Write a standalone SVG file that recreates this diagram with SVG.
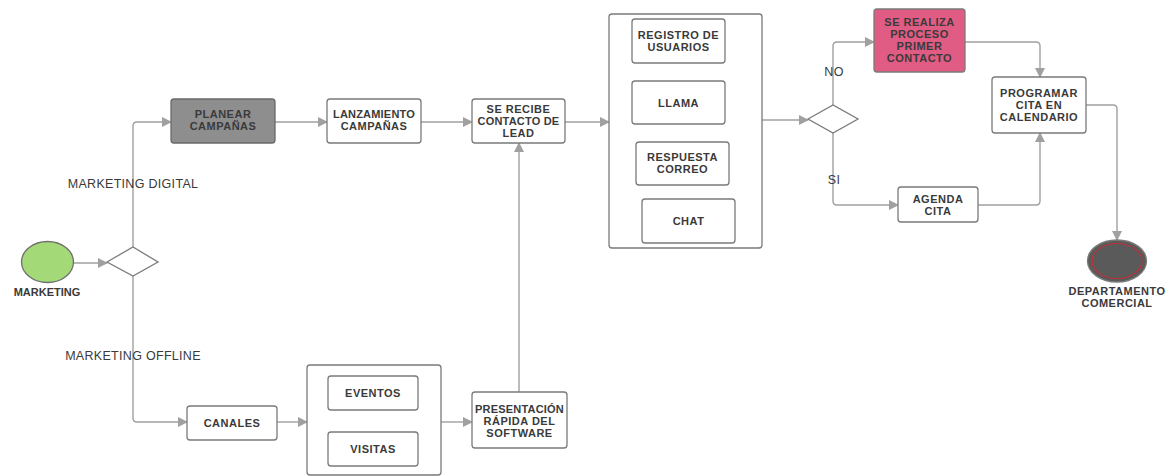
<svg xmlns="http://www.w3.org/2000/svg" width="1166" height="476" viewBox="0 0 1166 476">
<style>
.box{fill:#fff;stroke:#7a7a7a;stroke-width:1.3}
.t{font-family:"Liberation Sans",Arial,sans-serif;font-size:11px;font-weight:bold;fill:#3a3a3a;text-anchor:middle;letter-spacing:0.5px}
.lbl{font-family:"Liberation Sans",Arial,sans-serif;font-size:12.5px;fill:#3a3a3a;text-anchor:middle;letter-spacing:0.3px}
.c{fill:none;stroke:#a0a0a0;stroke-width:1.4}
</style>
<defs>
<marker id="ar" viewBox="0 0 10 10" refX="9" refY="5" markerWidth="10" markerHeight="10" markerUnits="userSpaceOnUse" orient="auto">
<path d="M0,0 L10,5 L0,10 z" fill="#a0a0a0"/>
</marker>
</defs>
<rect width="1166" height="476" fill="#fff"/>
<g id="connectors">
<path class="c" d="M73,263 H107" marker-end="url(#ar)"/>
<path class="c" d="M133,247 V126 Q133,122 137,122 H171" marker-end="url(#ar)"/>
<path class="c" d="M133,276 V418 Q133,422 137,422 H187" marker-end="url(#ar)"/>
<path class="c" d="M275,122 H327" marker-end="url(#ar)"/>
<path class="c" d="M421,122 H472" marker-end="url(#ar)"/>
<path class="c" d="M565,122 H609" marker-end="url(#ar)"/>
<path class="c" d="M277,422 H307" marker-end="url(#ar)"/>
<path class="c" d="M441,422 H472" marker-end="url(#ar)"/>
<path class="c" d="M519,392 V143" marker-end="url(#ar)"/>
<path class="c" d="M762,120 H808" marker-end="url(#ar)"/>
<path class="c" d="M833,105 V46 Q833,42 837,42 H874" marker-end="url(#ar)"/>
<path class="c" d="M833,133 V201 Q833,205 837,205 H898" marker-end="url(#ar)"/>
<path class="c" d="M965,42 H1036 Q1040,42 1040,46 V77" marker-end="url(#ar)"/>
<path class="c" d="M978,205 H1036 Q1040,205 1040,201 V133" marker-end="url(#ar)"/>
<path class="c" d="M1086,105 H1113 Q1117,105 1117,109 V240" marker-end="url(#ar)"/>
<text class="lbl" x="133" y="188">MARKETING DIGITAL</text>
<text class="lbl" x="133" y="360">MARKETING OFFLINE</text>
<text class="lbl" x="834" y="76">NO</text>
<text class="lbl" x="834" y="184">SI</text>
</g>
<g id="marketing">
<ellipse cx="47.5" cy="262" rx="26" ry="20.5" fill="#a3d977" stroke="#6f6f6f" stroke-width="1.3"/>
<text class="t" x="47" y="296" style="letter-spacing:0">MARKETING</text>
</g>
<g id="gateway1">
<path d="M107,262 L133,247 L158,262 L133,276 Z" class="box"/>
</g>
<g id="planear">
<rect x="171" y="99" width="104" height="44" rx="3" fill="#8e8e8e" stroke="#6a6a6a" stroke-width="1.3"/>
<text class="t" x="223" y="118">PLANEAR</text>
<text class="t" x="223" y="130">CAMPAÑAS</text>
</g>
<g id="lanzamiento">
<rect class="box" x="327" y="99" width="94" height="44" rx="3"/>
<text class="t" x="374" y="118" style="letter-spacing:0.2px">LANZAMIENTO</text>
<text class="t" x="374" y="130">CAMPAÑAS</text>
</g>
<g id="recibe">
<rect class="box" x="472" y="99" width="93" height="44" rx="3"/>
<text class="t" x="518.5" y="113">SE RECIBE</text>
<text class="t" x="518.5" y="125" style="letter-spacing:0.2px">CONTACTO DE</text>
<text class="t" x="518.5" y="137">LEAD</text>
</g>
<g id="canales-online">
<rect class="box" x="609" y="14" width="153" height="234" rx="3"/>
<rect class="box" x="632" y="19" width="93" height="44" rx="3"/>
<text class="t" x="678.5" y="39">REGISTRO DE</text>
<text class="t" x="678.5" y="51">USUARIOS</text>
<rect class="box" x="632" y="81" width="93" height="43" rx="3"/>
<text class="t" x="678.5" y="107">LLAMA</text>
<rect class="box" x="636" y="142" width="93" height="43" rx="3"/>
<text class="t" x="682.5" y="161">RESPUESTA</text>
<text class="t" x="682.5" y="173">CORREO</text>
<rect class="box" x="642" y="199" width="93" height="44" rx="3"/>
<text class="t" x="688.5" y="225">CHAT</text>
</g>
<g id="gateway2">
<path d="M808,119 L833,105 L858,119 L833,133 Z" class="box"/>
</g>
<g id="primer-contacto">
<rect x="874" y="9" width="91" height="63" rx="3" fill="#e05c84" stroke="#7a7a7a" stroke-width="1.3"/>
<text class="t" x="919.5" y="26">SE REALIZA</text>
<text class="t" x="919.5" y="38">PROCESO</text>
<text class="t" x="919.5" y="50">PRIMER</text>
<text class="t" x="919.5" y="62">CONTACTO</text>
</g>
<g id="programar">
<rect class="box" x="992" y="77" width="94" height="56" rx="3"/>
<text class="t" x="1039" y="97">PROGRAMAR</text>
<text class="t" x="1039" y="109">CITA EN</text>
<text class="t" x="1039" y="121">CALENDARIO</text>
</g>
<g id="agenda">
<rect class="box" x="898" y="187" width="80" height="35" rx="3"/>
<text class="t" x="938" y="203">AGENDA</text>
<text class="t" x="938" y="215">CITA</text>
</g>
<g id="departamento">
<ellipse cx="1117" cy="261" rx="29.5" ry="21" fill="#5a5a5a" stroke="#7a7a7a" stroke-width="1.3"/>
<ellipse cx="1117" cy="261" rx="25" ry="17.5" fill="none" stroke="#c0303a" stroke-width="1.2"/>
<text class="t" x="1117" y="295">DEPARTAMENTO</text>
<text class="t" x="1117" y="307">COMERCIAL</text>
</g>
<g id="canales">
<rect class="box" x="187" y="406" width="90" height="34" rx="3"/>
<text class="t" x="232" y="427">CANALES</text>
</g>
<g id="canales-offline">
<rect class="box" x="307" y="365" width="134" height="110" rx="3"/>
<rect class="box" x="328" y="376" width="90" height="34" rx="3"/>
<text class="t" x="373" y="397">EVENTOS</text>
<rect class="box" x="328" y="432" width="90" height="34" rx="3"/>
<text class="t" x="373" y="453">VISITAS</text>
</g>
<g id="presentacion">
<rect class="box" x="472" y="392" width="95" height="56" rx="3"/>
<text class="t" x="519.5" y="413" style="letter-spacing:0.2px">PRESENTACIÓN</text>
<text class="t" x="519.5" y="425">RÁPIDA DEL</text>
<text class="t" x="519.5" y="437">SOFTWARE</text>
</g>
</svg>
